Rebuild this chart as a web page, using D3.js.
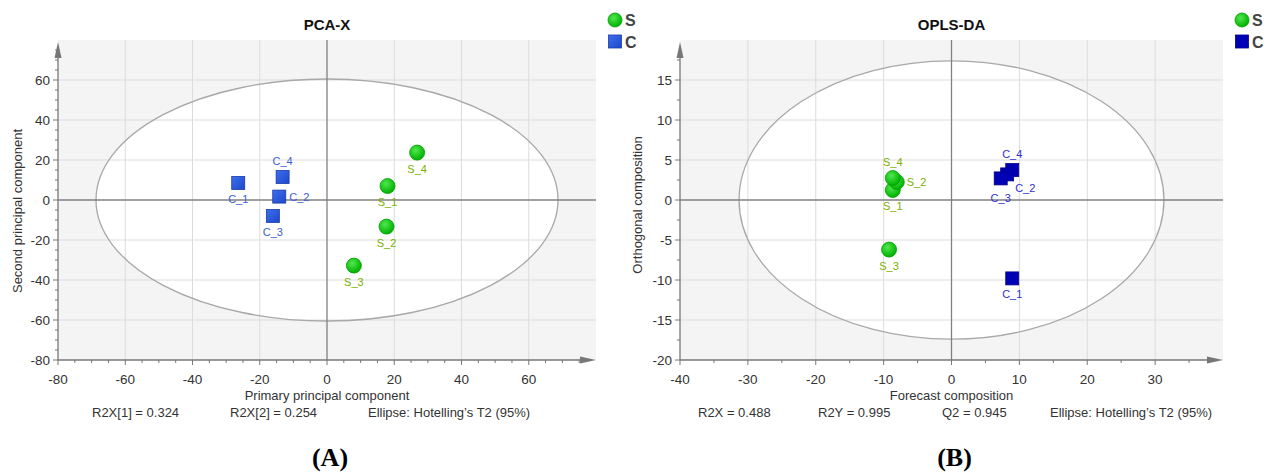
<!DOCTYPE html>
<html lang="en">
<head>
    <meta charset="UTF-8">
    <title>PCA-X / OPLS-DA score plots</title>
    <style>
        body { margin: 0; background: #fff; }
        svg text { font-family: "Liberation Sans", Arial, sans-serif; }
        .tick-label { font-size: 13.5px; fill: #333; }
        .axis-title { font-size: 13px; fill: #333; }
        .foot { font-size: 13px; fill: #333; }
        .plot-title { font-size: 15px; font-weight: bold; fill: #111; }
        .legend-text { font-size: 16px; font-weight: bold; fill: #444; }
        .pt-label { font-size: 11px; }
        .panel-tag { font-family: "Liberation Serif", "Times New Roman", serif !important; font-size: 26px; font-weight: bold; fill: #000; }
    </style>
</head>
<body>
<svg id="chart" width="1269" height="474"></svg>
<script src="https://d3js.org/d3.v7.min.js"></script>
<script>
    // sample names and groups (shared by both panels)
    const sampleNames = ["S_1", "S_2", "S_3", "S_4", "C_4", "C_2", "C_3", "C_1"];
    const sampleGroups = ["S", "S", "S", "S", "C", "C", "C", "C"];
    const groups = ["S", "C"];

    // panel A: PCA-X scores
    const pcaT1 = [18.0, 17.7, 8.0, 26.8, -13.2, -14.2, -16.1, -26.4];
    const pcaT2 = [7.0, -13.3, -32.8, 23.7, 11.5, 1.7, -8.0, 8.5];
    const pcaEllipse = [68.7, 60.5];
    const pcaXTicks = [-80, -60, -40, -20, 0, 20, 40, 60];
    const pcaYTicks = [-80, -60, -40, -20, 0, 20, 40, 60];
    const pcaFooter = ["R2X[1] = 0.324", "R2X[2] = 0.254", "Ellipse: Hotelling\u2019s T2 (95%)"];

    // panel B: OPLS-DA scores
    const oplsT = [-8.65, -8.06, -9.2, -8.65, 8.95, 8.2, 7.25, 8.95];
    const oplsTo = [1.25, 2.25, -6.2, 2.75, 3.75, 3.2, 2.7, -9.8];
    const oplsEllipse = [31.3, 17.4];
    const oplsXTicks = [-40, -30, -20, -10, 0, 10, 20, 30];
    const oplsYTicks = [-20, -15, -10, -5, 0, 5, 10, 15];
    const oplsFooter = ["R2X = 0.488", "R2Y = 0.995", "Q2 = 0.945", "Ellipse: Hotelling\u2019s T2 (95%)"];

    // where each point label sits (style only)
    const pcaLabelPos = { S_1: "below", S_2: "below", S_3: "below", S_4: "below",
                          C_1: "below", C_2: "right", C_3: "below", C_4: "above" };
    const oplsLabelPos = { S_1: "below", S_2: "right", S_3: "below", S_4: "above",
                           C_1: "below", C_2: "belowright", C_3: "belowleft", C_4: "above" };

    const svg = d3.select("#chart");
    const defs = svg.append("defs");

    const green = defs.append("radialGradient").attr("id", "gGreen")
        .attr("cx", "40%").attr("cy", "35%").attr("r", "65%");
    green.append("stop").attr("offset", "0%").attr("stop-color", "#4fe84f");
    green.append("stop").attr("offset", "100%").attr("stop-color", "#00b000");

    const blueA = defs.append("linearGradient").attr("id", "gBlueA")
        .attr("x1", 0).attr("y1", 0).attr("x2", 1).attr("y2", 1);
    blueA.append("stop").attr("offset", "0%").attr("stop-color", "#3d6ff0");
    blueA.append("stop").attr("offset", "100%").attr("stop-color", "#1d48c8");

    function drawPanel(opt) {
        const x = d3.scaleLinear().domain(opt.xDomain).range([opt.left, opt.right]);
        const y = d3.scaleLinear().domain(opt.yDomain).range([opt.bottom, opt.top]);
        const g = svg.append("g");

        const clipId = "clip" + opt.id;
        defs.append("clipPath").attr("id", clipId)
            .append("rect")
            .attr("x", opt.left).attr("y", opt.top)
            .attr("width", opt.right - opt.left).attr("height", opt.bottom - opt.top);

        // background
        g.append("rect")
            .attr("x", opt.left).attr("y", opt.top)
            .attr("width", opt.right - opt.left).attr("height", opt.bottom - opt.top)
            .attr("fill", "#f4f4f4");

        // ellipse
        g.append("ellipse")
            .attr("clip-path", `url(#${clipId})`)
            .attr("cx", x(0)).attr("cy", y(0))
            .attr("rx", x(opt.ellipse[0]) - x(0))
            .attr("ry", y(0) - y(opt.ellipse[1]))
            .attr("fill", "#fff");

        // grid
        const xGrid = opt.xTicks.filter(t => t !== 0 && t !== opt.xDomain[0]);
        const yGrid = opt.yTicks.filter(t => t !== 0 && t !== opt.yDomain[0]);
        g.selectAll(".vg").data(xGrid).enter().append("line")
            .attr("x1", d => x(d)).attr("x2", d => x(d))
            .attr("y1", opt.top).attr("y2", opt.bottom)
            .attr("stroke", "#dcdcdc").attr("stroke-width", 1);
        g.selectAll(".hg").data(yGrid).enter().append("line")
            .attr("y1", d => y(d)).attr("y2", d => y(d))
            .attr("x1", opt.left).attr("x2", opt.right)
            .attr("stroke", "#dcdcdc").attr("stroke-width", 1);

        // ellipse outline on top of grid
        g.append("ellipse")
            .attr("clip-path", `url(#${clipId})`)
            .attr("cx", x(0)).attr("cy", y(0))
            .attr("rx", x(opt.ellipse[0]) - x(0))
            .attr("ry", y(0) - y(opt.ellipse[1]))
            .attr("fill", "none").attr("stroke", "#a8a8a8").attr("stroke-width", 1.3);

        // zero lines
        g.append("line").attr("x1", x(0)).attr("x2", x(0))
            .attr("y1", opt.top).attr("y2", opt.bottom)
            .attr("stroke", "#808080").attr("stroke-width", 1.3);
        g.append("line").attr("y1", y(0)).attr("y2", y(0))
            .attr("x1", opt.left).attr("x2", opt.right)
            .attr("stroke", "#808080").attr("stroke-width", 1.3);

        // axes with minor ticks
        const axisColor = "#777";
        g.append("line").attr("x1", opt.left).attr("x2", opt.right - 10)
            .attr("y1", opt.bottom).attr("y2", opt.bottom)
            .attr("stroke", axisColor).attr("stroke-width", 1.3);
        g.append("path")
            .attr("d", `M${opt.right},${opt.bottom} L${opt.right - 16},${opt.bottom - 3.5} L${opt.right - 16},${opt.bottom + 3.5}Z`)
            .attr("fill", axisColor);
        g.append("line").attr("x1", opt.left).attr("x2", opt.left)
            .attr("y1", opt.top + 10).attr("y2", opt.bottom)
            .attr("stroke", axisColor).attr("stroke-width", 1.3);
        g.append("path")
            .attr("d", `M${opt.left},${opt.top + 2} L${opt.left - 3.5},${opt.top + 18} L${opt.left + 3.5},${opt.top + 18}Z`)
            .attr("fill", axisColor);

        const xMinor = d3.range(opt.xDomain[0], opt.xDomain[1], opt.xMinorStep);
        const yMinor = d3.range(opt.yDomain[0], opt.yDomain[1], opt.yMinorStep);
        g.selectAll(".xm").data(xMinor).enter().append("line")
            .attr("x1", d => x(d)).attr("x2", d => x(d))
            .attr("y1", opt.bottom)
            .attr("y2", d => opt.bottom + (opt.xTicks.includes(d) ? 5 : 3))
            .attr("stroke", axisColor);
        g.selectAll(".ym").data(yMinor).enter().append("line")
            .attr("y1", d => y(d)).attr("y2", d => y(d))
            .attr("x1", opt.left)
            .attr("x2", d => opt.left - (opt.yTicks.includes(d) ? 5 : 3))
            .attr("stroke", axisColor);

        g.selectAll(".xl").data(opt.xTicks).enter().append("text")
            .attr("class", "tick-label")
            .attr("x", d => x(d)).attr("y", opt.bottom + 24)
            .attr("text-anchor", "middle")
            .text(d => d);
        g.selectAll(".yl").data(opt.yTicks).enter().append("text")
            .attr("class", "tick-label")
            .attr("x", opt.left - 8).attr("y", d => y(d) + 4.5)
            .attr("text-anchor", "end")
            .text(d => d);

        // titles
        const cx = (opt.left + opt.right) / 2;
        g.append("text").attr("class", "plot-title")
            .attr("x", cx).attr("y", 30).attr("text-anchor", "middle").text(opt.title);
        g.append("text").attr("class", "axis-title")
            .attr("x", cx).attr("y", 400).attr("text-anchor", "middle").text(opt.xTitle);
        g.append("text").attr("class", "axis-title")
            .attr("transform", `translate(${opt.yTitleX},${opt.yTitleY}) rotate(-90)`)
            .attr("text-anchor", "middle").text(opt.yTitle);

        g.selectAll(".foot").data(opt.footer).enter().append("text")
            .attr("class", "foot")
            .attr("x", (d, i) => opt.footX[i]).attr("y", 417)
            .text(d => d);

        g.append("text").attr("class", "panel-tag")
            .attr("x", cx + 3).attr("y", 466).attr("text-anchor", "middle")
            .text(opt.tag);

        // points
        const pts = sampleNames.map((n, i) => ({
            name: n, group: sampleGroups[i], t: opt.xs[i], u: opt.ys[i]
        }));

        pts.forEach(p => {
            const px = x(p.t), py = y(p.u);
            if (p.group === "S") {
                g.append("circle").attr("cx", px).attr("cy", py).attr("r", 7.5)
                    .attr("fill", "url(#gGreen)").attr("stroke", "#00a000").attr("stroke-width", 0.8);
            } else {
                g.append("rect").attr("x", px - 6.5).attr("y", py - 6.5)
                    .attr("width", 13).attr("height", 13)
                    .attr("fill", opt.squareFill).attr("stroke", opt.squareStroke).attr("stroke-width", 0.8);
            }
        });

        const offsets = {
            below: [0, 20, "middle"], above: [0, -12, "middle"], right: [10, 4, "start"],
            belowright: [8, 18, "start"], belowleft: [0, 24, "middle"]
        };
        pts.forEach(p => {
            const o = offsets[opt.labelPos[p.name]];
            g.append("text").attr("class", "pt-label")
                .attr("x", x(p.t) + o[0]).attr("y", y(p.u) + o[1])
                .attr("text-anchor", o[2])
                .attr("fill", p.group === "S" ? "#7ab000" : opt.cLabel)
                .text(p.name);
        });

        // legend
        const lg = g.append("g");
        groups.forEach((gr, i) => {
            const ly = 20 + i * 21.5;
            if (gr === "S") {
                lg.append("circle").attr("cx", opt.legendX).attr("cy", ly).attr("r", 7)
                    .attr("fill", "url(#gGreen)").attr("stroke", "#00a000").attr("stroke-width", 0.8);
            } else {
                lg.append("rect").attr("x", opt.legendX - 6.5).attr("y", ly - 6.5)
                    .attr("width", 13).attr("height", 13)
                    .attr("fill", opt.squareFill).attr("stroke", opt.squareStroke).attr("stroke-width", 0.8);
            }
            lg.append("text").attr("class", "legend-text")
                .attr("x", opt.legendX + 10).attr("y", ly + 6).text(gr);
        });
    }

    drawPanel({
        id: "A", left: 58, right: 596, top: 40, bottom: 360,
        xDomain: [-80, 80], yDomain: [-80, 80], xMinorStep: 5, yMinorStep: 5,
        xTicks: pcaXTicks, yTicks: pcaYTicks, ellipse: pcaEllipse,
        xs: pcaT1, ys: pcaT2, labelPos: pcaLabelPos,
        title: "PCA-X", xTitle: "Primary principal component", yTitle: "Second principal component",
        yTitleX: 22, yTitleY: 211, footer: pcaFooter, footX: [92, 230, 368], tag: "(A)",
        squareFill: "url(#gBlueA)", squareStroke: "#1a3aa8", cLabel: "#3a5ed8", legendX: 615
    });

    drawPanel({
        id: "B", left: 680, right: 1223, top: 40, bottom: 360,
        xDomain: [-40, 40], yDomain: [-20, 20], xMinorStep: 5, yMinorStep: 2.5,
        xTicks: oplsXTicks, yTicks: oplsYTicks, ellipse: oplsEllipse,
        xs: oplsT, ys: oplsTo, labelPos: oplsLabelPos,
        title: "OPLS-DA", xTitle: "Forecast composition", yTitle: "Orthogonal composition",
        yTitleX: 642, yTitleY: 205, footer: oplsFooter, footX: [698, 818, 942, 1050], tag: "(B)",
        squareFill: "#0000b4", squareStroke: "#00008a", cLabel: "#2f2fd0", legendX: 1242
    });
</script>
</body>
</html>
